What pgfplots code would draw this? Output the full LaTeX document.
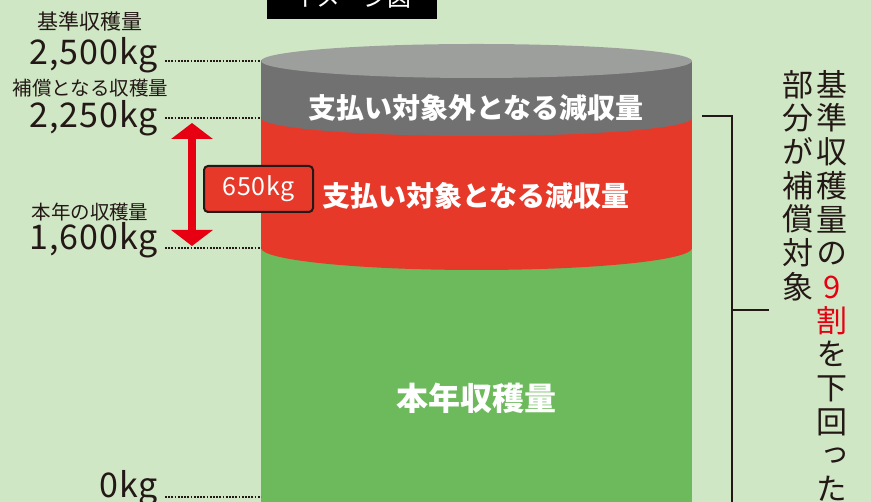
\documentclass[border=0pt]{standalone}
\usepackage{pgfplots}
\pgfplotsset{compat=1.18}
\usepackage{fontspec}
\setmainfont{Noto Sans CJK JP}
\newfontfamily\vjp[RawFeature=+vert]{Noto Sans CJK JP}
\newfontfamily\numf[LetterSpace=3]{Noto Sans CJK JP}
\usetikzlibrary{arrows.meta}
\definecolor{bg}{HTML}{D0E7C6}
\definecolor{grn}{HTML}{6CBA5C}
\definecolor{rd}{HTML}{E7392A}
\definecolor{gry}{HTML}{717171}
\definecolor{gtop}{HTML}{9D9F9D}
\definecolor{dk}{HTML}{231815}
\definecolor{arw}{HTML}{E60012}
\newcommand{\fs}[1]{\fontsize{#1}{#1}\selectfont}
\begin{document}
\begin{tikzpicture}
\begin{axis}[name=ax, width=871pt, height=502pt, scale only axis,
  xmin=0, xmax=871, ymin=0, ymax=502, hide axis, clip=false]
% background
\fill[bg] (axis cs:0,-10) rectangle (axis cs:871,512);
% levels on the drawing: 0 kg -> 5, 1,600 kg -> 254, 2,250 kg -> 384, 2,500 kg -> 441
% green: 本年収穫量
\addplot[fill=grn, draw=none] coordinates {(261,-5) (692,-5) (692,254) (261,254)} -- cycle;
% red: 支払い対象となる減収量
\addplot[fill=rd, draw=none] coordinates {(261,253) (692,253) (692,384) (261,384)} -- cycle;
\fill[rd] (axis cs:261,254) arc[start angle=180, end angle=360, x radius=215.5pt, y radius=22pt] -- cycle;
% grey: 支払い対象外となる減収量
\addplot[fill=gry, draw=none] coordinates {(261,383) (692,383) (692,441) (261,441)} -- cycle;
\fill[gry] (axis cs:261,384) arc[start angle=180, end angle=360, x radius=215.5pt, y radius=18pt] -- cycle;
\fill[gtop] (axis cs:476.5,441) ellipse[x radius=215.5pt, y radius=17pt];
% dotted guide lines
\pgfplotsset{guide/.style={dk, line width=1.1pt, dash pattern=on 1.7pt off 1.5pt}}
\addplot[guide] coordinates {(165,441) (261,441)};
\addplot[guide] coordinates {(165,384) (261,384)};
\addplot[guide] coordinates {(165,254) (261,254)};
\addplot[guide] coordinates {(165,5) (261,5)};
% left labels
\node[dk, font=\fs{21}] at (axis cs:90,480) {基準収穫量};
\node[dk, font=\numf\fs{34}, anchor=base east, inner sep=0pt] at (axis cs:158,437) {2,500kg};
\node[dk, font=\fs{19.5}] at (axis cs:90.5,414) {補償となる収穫量};
\node[dk, font=\numf\fs{34}, anchor=base east, inner sep=0pt] at (axis cs:158,374) {2,250kg};
\node[dk, font=\fs{19.5}] at (axis cs:90,290) {本年の収穫量};
\node[dk, font=\numf\fs{34}, anchor=base east, inner sep=0pt] at (axis cs:158,252) {1,600kg};
\node[dk, font=\numf\fs{34}, anchor=base east, inner sep=0pt] at (axis cs:158,4) {0kg};
% arrow and 650 kg box
\draw[arw, line width=8pt, {Triangle[width=41pt,length=16pt]}-{Triangle[width=41pt,length=16pt]}] (axis cs:192,379) -- (axis cs:192,256);
\node[draw=dk, line width=2pt, fill=rd, rounded corners=4pt, minimum width=109pt, minimum height=46pt, text=white, font=\numf\fs{25}] at (axis cs:258.5,313) {650kg};
% labels inside the cylinder
\node[white, font=\bfseries\fs{28}] at (axis cs:476,394) {支払い対象外となる減収量};
\node[white, font=\bfseries\fs{28}] at (axis cs:476,306) {支払い対象となる減収量};
\node[white, font=\bfseries\fs{32}] at (axis cs:476,104) {本年収穫量};
% title box
\fill[black] (axis cs:267,483) rectangle (axis cs:437,512);
\node[white, font=\fs{24}] at (axis cs:352,504.5) {イメージ図};
% bracket
\draw[dk, line width=1.3pt] (axis cs:702,386) -- (axis cs:732,386) -- (axis cs:732,-10);
\draw[dk, line width=1.3pt] (axis cs:732,192) -- (axis cs:769,192);
% vertical text
\node[dk, anchor=north, align=center, inner sep=0pt, font=\vjp\fontsize{31}{33.7}\selectfont] at (axis cs:832,432)
  {基\\準\\収\\穫\\量\\の\\\textcolor{arw}{9}\\\textcolor{arw}{割}\\を\\下\\回\\っ\\た};
\node[dk, anchor=north, align=center, inner sep=0pt, font=\vjp\fontsize{31}{33.7}\selectfont] at (axis cs:798,432)
  {部\\分\\が\\補\\償\\対\\象};
\end{axis}
\pgfresetboundingbox
\path[use as bounding box] (ax.south west) rectangle (ax.north east);
\end{tikzpicture}
\end{document}
